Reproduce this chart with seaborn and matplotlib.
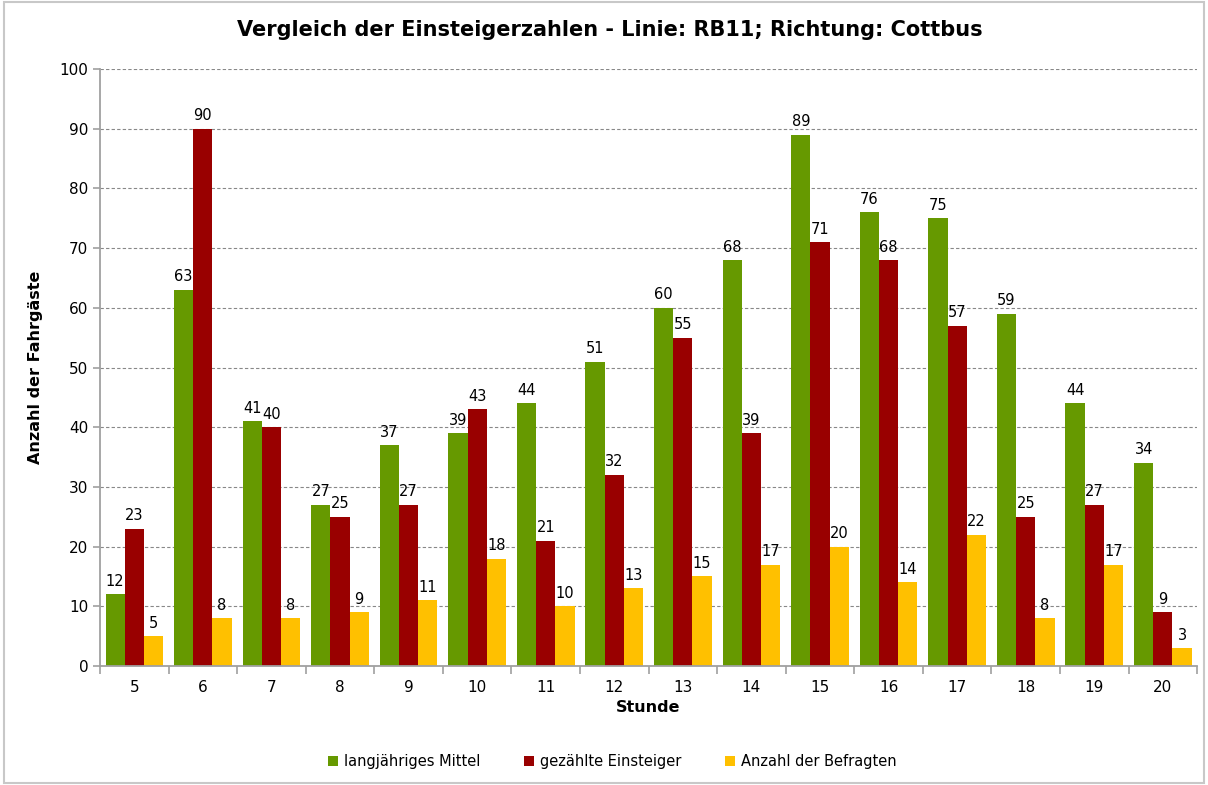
import numpy as np
import pandas as pd
import matplotlib
matplotlib.use("Agg")
import matplotlib.pyplot as plt
import seaborn as sns
from matplotlib.ticker import FixedLocator

hours = ["5", "6", "7", "8", "9", "10", "11", "12", "13", "14", "15", "16", "17", "18", "19", "20"]
mittel = [12, 63, 41, 27, 37, 39, 44, 51, 60, 68, 89, 76, 75, 59, 44, 34]
gezaehlt = [23, 90, 40, 25, 27, 43, 21, 32, 55, 39, 71, 68, 57, 25, 27, 9]
befragt = [5, 8, 8, 9, 11, 18, 10, 13, 15, 17, 20, 14, 22, 8, 17, 3]
series_names = ["langjähriges Mittel", "gezählte Einsteiger", "Anzahl der Befragten"]
colors = ["#669900", "#990000", "#FFC000"]

df = pd.DataFrame({
    "Stunde": hours * 3,
    "Wert": mittel + gezaehlt + befragt,
    "Serie": [series_names[0]] * len(hours) + [series_names[1]] * len(hours) + [series_names[2]] * len(hours),
})

sns.set_theme(style="white")
plt.rcParams['font.family'] = ['DejaVu Sans']
plt.rcParams['text.color'] = 'black'
plt.rcParams['axes.labelcolor'] = 'black'
plt.rcParams['xtick.color'] = 'black'
plt.rcParams['ytick.color'] = 'black'

fig = plt.figure(figsize=(12.08, 7.85), dpi=100)
ax = fig.add_axes([0.0828, 0.1516, 0.9082, 0.7604])

sns.barplot(data=df, x="Stunde", y="Wert", hue="Serie", order=hours,
            hue_order=series_names, palette=colors, width=0.84,
            saturation=1, ax=ax, legend=True, edgecolor="none")

for cont in ax.containers:
    ax.bar_label(cont, padding=4, fontsize=10.5, color="black")

ax.set_ylim(0, 100)
ax.set_xlim(-0.5, len(hours) - 0.5)
ax.set_yticks(np.arange(0, 101, 10))
ax.yaxis.grid(True, linestyle=(0, (3, 2)), color="#888888", linewidth=0.8)
ax.set_axisbelow(True)

for s in ["top", "right"]:
    ax.spines[s].set_visible(False)
for s in ["left", "bottom"]:
    ax.spines[s].set_color("#A0A0A0")
    ax.spines[s].set_linewidth(1.3)

ax.tick_params(axis="y", which="major", length=5, color="#A0A0A0", width=1.2,
               labelsize=11, direction="out", left=True, labelcolor="black")
ax.tick_params(axis="x", which="major", length=0, labelsize=11, pad=10, labelcolor="black")
ax.xaxis.set_minor_locator(FixedLocator(np.arange(-0.5, len(hours), 1.0)))
ax.tick_params(axis="x", which="minor", length=6, color="#A0A0A0", width=1.2,
               direction="out", bottom=True)

ax.set_xlabel("Stunde", fontsize=11.5, fontweight="bold", labelpad=4, color="black")
ax.set_ylabel("Anzahl der Fahrgäste", fontsize=11.5, fontweight="bold", labelpad=12, color="black")
fig.suptitle("Vergleich der Einsteigerzahlen - Linie: RB11; Richtung: Cottbus",
             fontsize=15, fontweight="bold", y=0.975, x=0.505, color="black")

handles, labels = ax.get_legend_handles_labels()
ax.legend_.remove()
fig.legend(handles, labels, loc="center", bbox_to_anchor=(0.507, 0.03), ncol=3,
           frameon=False, fontsize=10.5, handlelength=0.7, handleheight=0.7,
           handletextpad=0.4, columnspacing=3.0, labelcolor="black")

border = plt.Rectangle((0.003, 0.003), 0.994, 0.994, transform=fig.transFigure,
                       fill=False, edgecolor="#C8C8C8", linewidth=1.5)
fig.patches.append(border)

fig.savefig("out.png", dpi=100)
